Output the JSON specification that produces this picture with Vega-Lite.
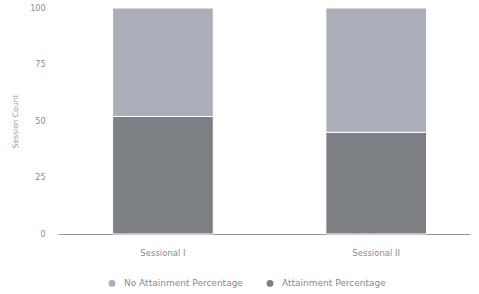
{
  "$schema": "https://vega.github.io/schema/vega-lite/v6.json",
  "autosize": "none",
  "width": 412,
  "height": 226,
  "padding": {"left": 58, "top": 8, "right": 9, "bottom": 60},
  "background": "white",
  "config": {
    "view": {"stroke": null},
    "font": "DejaVu Sans",
    "axis": {"labelColor": "#8a8a8a", "titleColor": "#9a9a9a", "labelFont": "DejaVu Sans", "titleFont": "DejaVu Sans", "labelFontSize": 8, "titleFontSize": 7.5, "titleFontWeight": "normal"}
  },
  "data": {
    "values": [
      {"session": "Sessional I", "type": "Attainment Percentage", "value": 52, "ord": 1},
      {"session": "Sessional I", "type": "No Attainment Percentage", "value": 48, "ord": 2},
      {"session": "Sessional II", "type": "Attainment Percentage", "value": 45, "ord": 1},
      {"session": "Sessional II", "type": "No Attainment Percentage", "value": 55, "ord": 2}
    ]
  },
  "mark": {"type": "bar", "stroke": "white", "strokeWidth": 1},
  "encoding": {
    "x": {
      "field": "session", "type": "nominal",
      "scale": {"paddingInner": 0.528, "paddingOuter": 0.23, "align": 0.557},
      "axis": {"title": null, "labelAngle": 0, "ticks": false, "domainColor": "#999999", "labelPadding": 14, "labelFontSize": 8.5, "grid": false}
    },
    "y": {
      "field": "value", "type": "quantitative", "stack": "zero",
      "scale": {"domain": [0, 100], "nice": false},
      "axis": {"title": "Session Count", "values": [0, 25, 50, 75, 100], "grid": false, "domain": false, "ticks": false, "labelPadding": 13, "titlePadding": 10}
    },
    "color": {
      "field": "type", "type": "nominal",
      "scale": {"domain": ["No Attainment Percentage", "Attainment Percentage"], "range": ["#a9aeb8", "#7c8085"]},
      "legend": {"title": null, "orient": "none", "direction": "horizontal", "legendX": 49, "legendY": 270, "symbolType": "circle", "symbolSize": 70, "labelColor": "#8a8a8a", "labelFontSize": 9, "labelFont": "DejaVu Sans", "labelOffset": 7, "columnPadding": 19}
    },
    "order": {"field": "ord", "type": "quantitative"}
  }
}
